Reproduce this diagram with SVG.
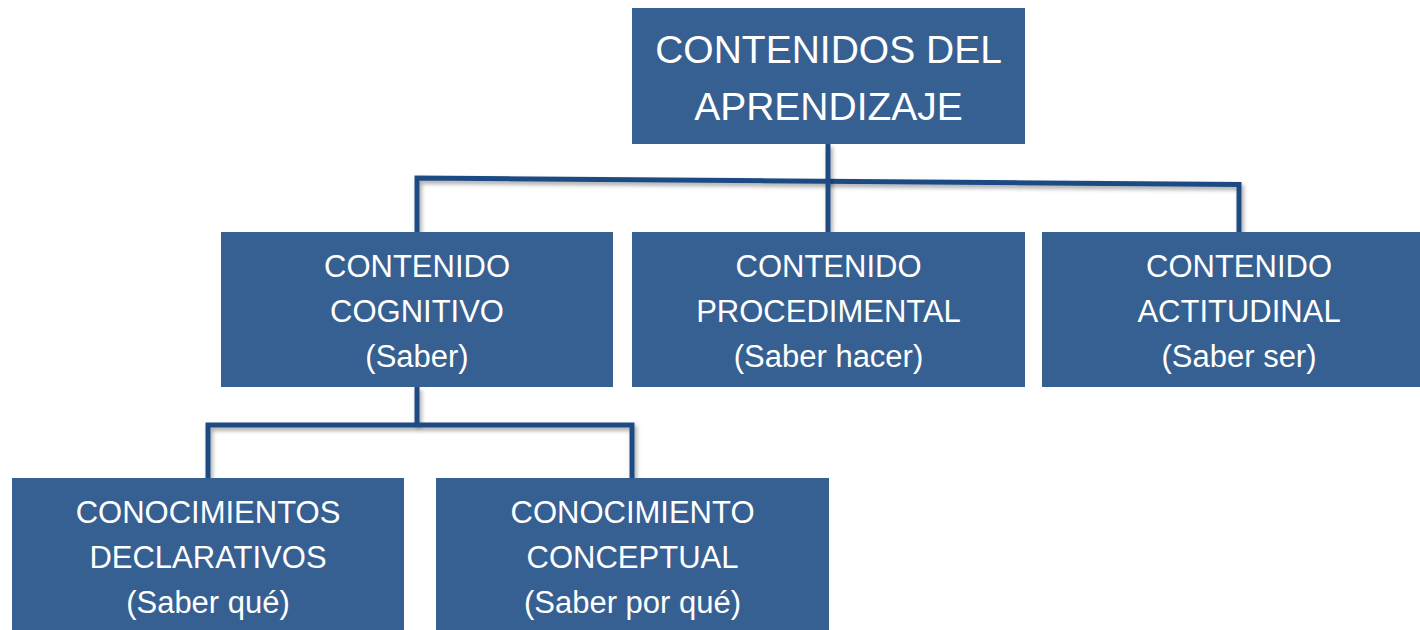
<svg xmlns="http://www.w3.org/2000/svg" width="1420" height="630" viewBox="0 0 1420 630">
<defs>
<filter id="sh" filterUnits="userSpaceOnUse" x="0" y="0" width="1420" height="630">
<feDropShadow dx="2" dy="3" stdDeviation="2" flood-color="#000" flood-opacity="0.35"/>
</filter>
</defs>
<style>
.box{fill:#376092;}
.t{font-family:"Liberation Sans",Arial,sans-serif;font-size:31px;fill:#fff;text-anchor:middle;}
.tt{font-family:"Liberation Sans",Arial,sans-serif;font-size:39px;fill:#fff;text-anchor:middle;}
.c{fill:none;stroke:#1f4b83;stroke-width:5;stroke-linejoin:miter;filter:url(#sh);}
</style>
<rect width="1420" height="630" fill="#fff"/>
<g id="connectors">
<polyline class="c" points="417,232 417,178 1239,184.5 1239,232"/>
<line class="c" x1="828" y1="144" x2="828" y2="232"/>
<line class="c" x1="417" y1="387" x2="417" y2="425"/>
<polyline class="c" points="208,478 208,425 632,425 632,478"/>
</g>
<g id="root">
<rect class="box" x="632" y="8" width="393" height="136"/>
<text class="tt" x="828.5" y="63">CONTENIDOS DEL</text>
<text class="tt" x="828.5" y="120">APRENDIZAJE</text>
</g>
<g id="cognitivo">
<rect class="box" x="221" y="232" width="392" height="155"/>
<text class="t" x="417" y="277">CONTENIDO</text>
<text class="t" x="417" y="322">COGNITIVO</text>
<text class="t" x="417" y="367">(Saber)</text>
</g>
<g id="procedimental">
<rect class="box" x="632" y="232" width="393" height="155"/>
<text class="t" x="828.5" y="277">CONTENIDO</text>
<text class="t" x="828.5" y="322">PROCEDIMENTAL</text>
<text class="t" x="828.5" y="367">(Saber hacer)</text>
</g>
<g id="actitudinal">
<rect class="box" x="1042" y="232" width="378" height="155"/>
<text class="t" x="1239" y="277">CONTENIDO</text>
<text class="t" x="1239" y="322">ACTITUDINAL</text>
<text class="t" x="1239" y="367">(Saber ser)</text>
</g>
<g id="declarativos">
<rect class="box" x="12" y="478" width="392" height="152"/>
<text class="t" x="208" y="523">CONOCIMIENTOS</text>
<text class="t" x="208" y="568">DECLARATIVOS</text>
<text class="t" x="208" y="613">(Saber qué)</text>
</g>
<g id="conceptual">
<rect class="box" x="436" y="478" width="393" height="152"/>
<text class="t" x="632.5" y="523">CONOCIMIENTO</text>
<text class="t" x="632.5" y="568">CONCEPTUAL</text>
<text class="t" x="632.5" y="613">(Saber por qué)</text>
</g>
</svg>
